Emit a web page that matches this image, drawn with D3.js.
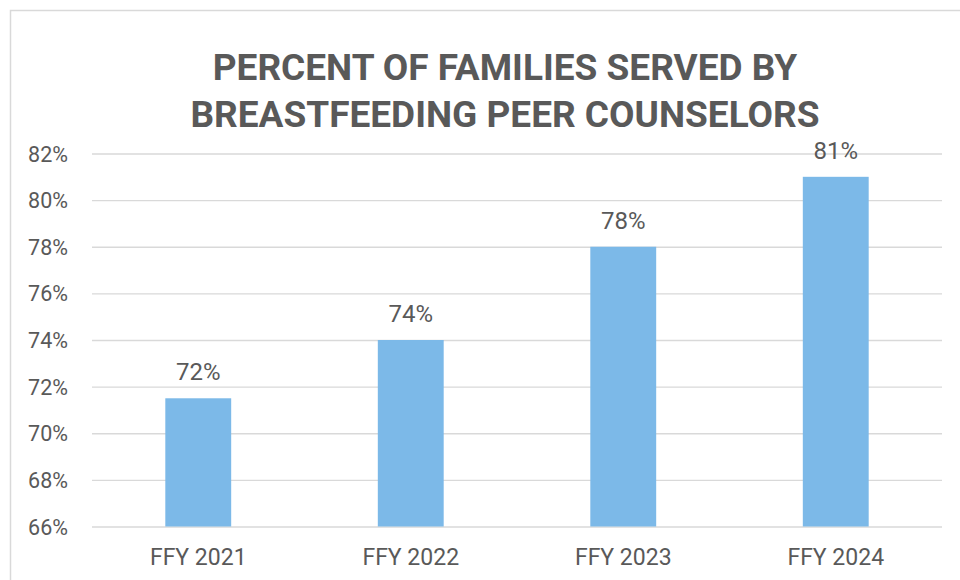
<!DOCTYPE html>
<html>
<head>
<meta charset="utf-8">
<script src="https://cdn.jsdelivr.net/npm/d3@7"></script>
<style>
  html, body { margin: 0; padding: 0; background: #fff; }
  svg { display: block; }
</style>
</head>
<body>
<svg id="chart" width="960" height="580"></svg>
<script>
// Data
const categories = ["FFY 2021", "FFY 2022", "FFY 2023", "FFY 2024"];
const values = [71.5, 74, 78, 81];
const yTicks = [66, 68, 70, 72, 74, 76, 78, 80, 82];
const titleLines = ["PERCENT OF FAMILIES SERVED BY", "BREASTFEEDING PEER COUNSELORS"];

const textColor = "#595959";
const gridColor = "#d9d9d9";
const barColor = "#7cb9e8";
const font = "Roboto, 'Liberation Sans', Arial, sans-serif";

const svg = d3.select("#chart");

// Outer chart frame
svg.append("rect")
  .attr("x", 10.5).attr("y", 10.5)
  .attr("width", 1000).attr("height", 600)
  .attr("fill", "#fff")
  .attr("stroke", gridColor)
  .attr("stroke-width", 1.5);

const plot = { left: 92, right: 942, top: 153.5, bottom: 526.5 };

const x = d3.scaleBand()
  .domain(categories)
  .range([plot.left, plot.right])
  .paddingInner(0.69)
  .paddingOuter(0.345);

const y = d3.scaleLinear()
  .domain([66, 82])
  .range([plot.bottom, plot.top]);

// Title
svg.append("g")
  .selectAll("text")
  .data(titleLines)
  .join("text")
  .attr("x", 505)
  .attr("y", (d, i) => 80 + i * 46.5)
  .attr("text-anchor", "middle")
  .attr("fill", textColor)
  .attr("font-family", font)
  .attr("font-weight", "bold")
  .attr("font-size", 37)
  .text(d => d);

// Gridlines + y tick labels via axis
const yAxis = d3.axisLeft(y)
  .tickValues(yTicks)
  .tickSize(-(plot.right - plot.left))
  .tickPadding(24)
  .tickFormat(d => d + "%");

const gy = svg.append("g")
  .attr("transform", `translate(${plot.left},0)`)
  .call(yAxis);
gy.select(".domain").remove();
gy.selectAll(".tick line")
  .attr("stroke", gridColor)
  .attr("stroke-width", 1.3);
gy.selectAll(".tick text")
  .attr("fill", textColor)
  .attr("font-family", font)
  .attr("font-size", 21.5)
  .attr("dy", "0.35em");

// Bars
svg.append("g")
  .selectAll("rect")
  .data(values)
  .join("rect")
  .attr("x", (d, i) => x(categories[i]))
  .attr("width", x.bandwidth())
  .attr("y", d => y(d))
  .attr("height", d => y(66) - y(d))
  .attr("fill", barColor);

// Value labels
const fmt = d3.format(".0f");
svg.append("g")
  .selectAll("text")
  .data(values)
  .join("text")
  .attr("x", (d, i) => x(categories[i]) + x.bandwidth() / 2)
  .attr("y", d => y(d) - 18)
  .attr("text-anchor", "middle")
  .attr("fill", textColor)
  .attr("font-family", font)
  .attr("font-size", 24)
  .text(d => fmt(d) + "%");

// Category axis
const xAxis = d3.axisBottom(x).tickSize(0).tickPadding(0);
const gx = svg.append("g")
  .attr("transform", `translate(0,${plot.bottom})`)
  .call(xAxis);
gx.select(".domain").remove();
gx.selectAll(".tick text")
  .attr("fill", textColor)
  .attr("font-family", font)
  .attr("font-size", 23)
  .attr("dy", null)
  .attr("y", 38.5);
</script>
</body>
</html>
